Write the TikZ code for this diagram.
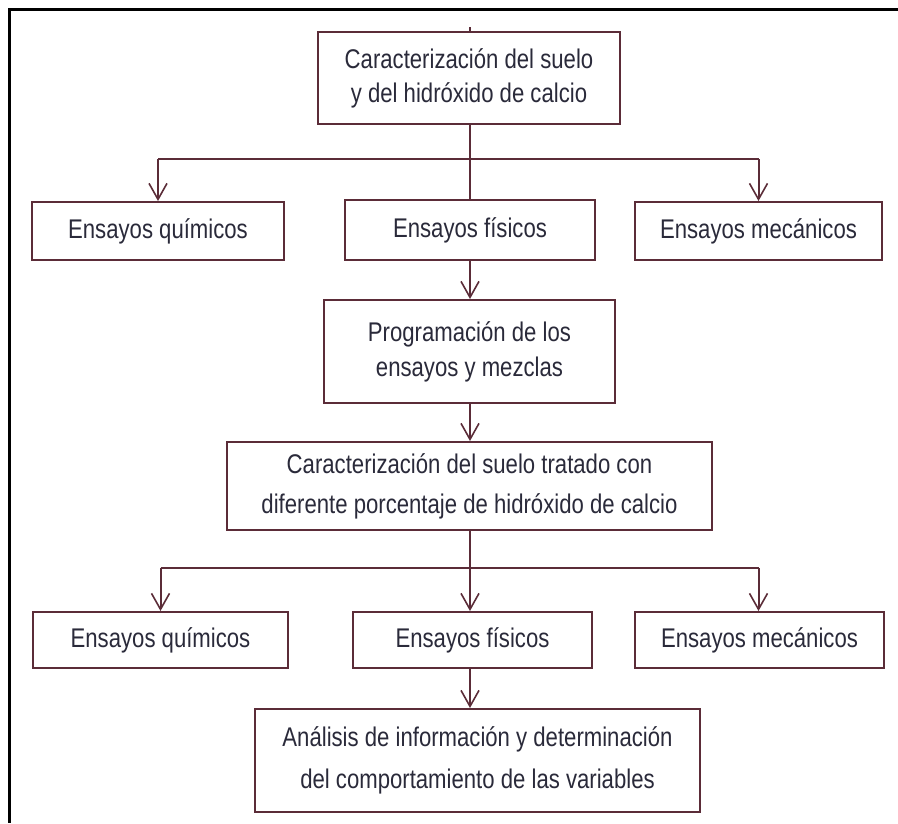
\documentclass[tikz,border=0pt]{standalone}
\usepackage{fontspec}
\setmainfont{Liberation Sans}[FakeStretch=0.82]
\usetikzlibrary{arrows.meta}
\definecolor{linec}{HTML}{5B2C38}
\definecolor{textc}{HTML}{2A2A3A}
\tikzset{
  box/.style={draw=linec, line width=2pt, fill=white, rectangle, inner sep=0pt,
    align=center, text=textc, font=\fontsize{27}{38}\selectfont},
  conn/.style={draw=linec, line width=2pt},
  arr/.style={conn, -{Straight Barb[length=16pt,width=18pt,line width=1.6pt]}},
  frame/.style={draw=black, line width=3pt}
}
\begin{document}
\begin{tikzpicture}[x=1pt,y=-1pt]
\useasboundingbox (0,0) rectangle (898,823);
\draw[frame] (9,9) -- (898,9);
\draw[frame] (9,8) -- (9,823);

\node[box, minimum width=302pt, minimum height=92pt, font=\fontsize{27}{34}\selectfont] (b1) at (469,78)
  {Caracterización del suelo\\y del hidróxido de calcio};
\node[box, minimum width=252pt, minimum height=58pt] (l1) at (158,231) {Ensayos químicos};
\node[box, minimum width=250pt, minimum height=60pt] (m1) at (470,230) {Ensayos físicos};
\node[box, minimum width=247pt, minimum height=58pt] (r1) at (758.5,231) {Ensayos mecánicos};
\node[box, minimum width=291pt, minimum height=103pt, font=\fontsize{27}{35}\selectfont] (pr) at (469.5,351.5)
  {Programación de los\\ensayos y mezclas};
\node[box, minimum width=485pt, minimum height=88pt, font=\fontsize{27}{40}\selectfont] (tr) at (469.5,486)
  {Caracterización del suelo tratado con\\diferente porcentaje de hidróxido de calcio};
\node[box, minimum width=255pt, minimum height=56pt] (l2) at (160.5,640) {Ensayos químicos};
\node[box, minimum width=239pt, minimum height=56pt] (m2) at (472.5,640) {Ensayos físicos};
\node[box, minimum width=249pt, minimum height=56pt] (r2) at (759.5,640) {Ensayos mecánicos};
\node[box, minimum width=445pt, minimum height=103pt, font=\fontsize{27}{42}\selectfont] (an) at (477.5,760.5)
  {Análisis de información y determinación\\del comportamiento de las variables};

\coordinate (t) at (470,27);
\coordinate (s) at (470,0);
\coordinate (h1) at (470,159);
\coordinate (h2) at (470,568);

\draw[conn] (t) -- (b1.north -| t);
\draw[conn] (b1.south -| s) -- (m1.north -| s);
\draw[conn] (h1 -| l1) -- (h1 -| r1);
\draw[arr] (h1 -| l1) -- (l1.north);
\draw[arr] (h1 -| r1) -- (r1.north);
\draw[arr] (m1.south -| s) -- (pr.north -| s);
\draw[arr] (pr.south -| s) -- (tr.north -| s);
\draw[conn] (tr.south -| s) -- (h2);
\draw[conn] (h2 -| l2) -- (h2 -| r1);
\draw[arr] (h2 -| l2) -- (l2.north);
\draw[arr] (h2) -- (m2.north -| s);
\draw[arr] (h2 -| r1) -- (r2.north -| r1);
\draw[arr] (m2.south -| s) -- (an.north -| s);
\end{tikzpicture}
\end{document}
